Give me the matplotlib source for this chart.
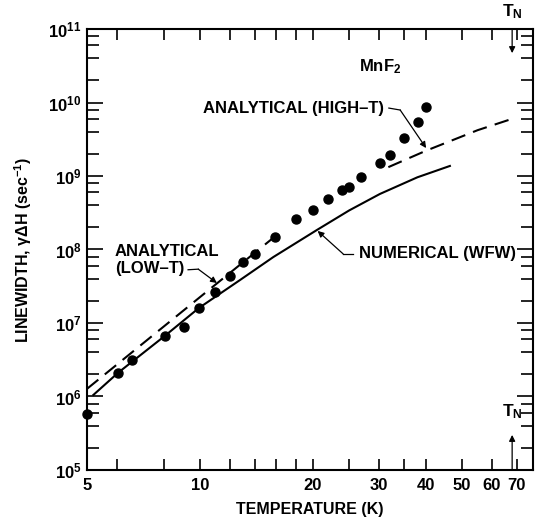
import numpy as np
import matplotlib
matplotlib.use('Agg')
import matplotlib.pyplot as plt
from matplotlib.ticker import FixedLocator, LogLocator, NullFormatter

plt.rcParams['font.family'] = ['Liberation Sans', 'DejaVu Sans']
plt.rcParams['font.weight'] = 'bold'
plt.rcParams['axes.labelweight'] = 'bold'
plt.rcParams['mathtext.fontset'] = 'custom'
plt.rcParams['mathtext.rm'] = 'Liberation Sans:bold'
plt.rcParams['mathtext.it'] = 'Liberation Sans:bold'
plt.rcParams['mathtext.bf'] = 'Liberation Sans:bold'

#==============================================================================
# data
#==============================================================================

# measured linewidth (dots)
T_data = [5.0, 6.05, 6.6, 8.07, 9.07, 9.94, 11.0, 12.0, 13.0, 14.05, 15.9, 18.0,
          20.0, 21.9, 23.9, 25.0, 26.9, 30.2, 32.2, 35.0, 38.1, 40.0]
G_data = [5.8e5, 2.1e6, 3.1e6, 6.7e6, 8.8e6, 1.6e7, 2.64e7, 4.36e7, 6.76e7, 8.7e7,
          1.48e8, 2.6e8, 3.44e8, 4.86e8, 6.46e8, 7.1e8, 9.7e8, 1.5e9, 1.93e9,
          3.3e9, 5.4e9, 8.7e9]

# numerical (WFW), solid
T_num = [5.2, 6.05, 8.07, 9.94, 12.8, 15.7, 20.5, 25.0, 30.2, 38.0, 46.4]
G_num = [1.05e6, 2.1e6, 6.7e6, 1.6e7, 3.85e7, 7.9e7, 1.84e8, 3.4e8, 5.7e8, 9.6e8, 1.37e9]

# analytical low-T, dashed
T_low = [5.0, 9.94, 16.4]
G_low = [1.27e6, 2.19e7, 1.73e8]

# analytical high-T, dashed
T_high = [31.8, 40.0, 55.0, 68.0]
G_high = [1.32e9, 2.2e9, 4.2e9, 6.0e9]

T_N = 68.0

x_ticks = [5, 6, 8, 10, 12, 14, 16, 18, 20, 25, 30, 35, 40, 50, 60, 70]
x_labels = ['5', '', '', '10', '', '', '', '', '20', '', '30', '', '40', '50', '60', '70']
y_ticks = [1e5, 1e6, 1e7, 1e8, 1e9, 1e10, 1e11]
y_labels = [r'$\mathregular{10^{%d}}$' % k for k in range(5, 12)]

#==============================================================================
# figure
#==============================================================================

fig = plt.figure(figsize=(5.37, 5.20), dpi=100)
ax = fig.add_axes([0.162, 0.0962, 0.8306, 0.848])

ax.plot(T_num, G_num, color='k', lw=1.5)
ax.plot(T_low, G_low, color='k', lw=1.5, dashes=(7, 4))
ax.plot(T_high, G_high, color='k', lw=1.5, dashes=(7, 4))
ax.plot(T_data, G_data, 'o', color='k', ms=6.5, clip_on=False)

ax.set_xscale('log')
ax.set_yscale('log')
ax.set_xlim(5, 77.3)
ax.set_ylim(1e5, 1e11)

ax.xaxis.set_major_locator(FixedLocator(x_ticks))
ax.set_xticklabels(x_labels)
ax.xaxis.set_minor_locator(FixedLocator([]))
ax.yaxis.set_major_locator(FixedLocator(y_ticks))
ax.set_yticklabels(y_labels)
ax.yaxis.set_minor_locator(LogLocator(base=10, subs=[2, 4, 6, 8]))
ax.yaxis.set_minor_formatter(NullFormatter())

ax.tick_params(which='both', direction='in', top=True, right=True, width=1.2, labelsize=12)
ax.tick_params(axis='x', which='major', length=8, pad=6)
ax.tick_params(axis='y', which='major', length=11.5, pad=4)
ax.tick_params(axis='y', which='minor', length=8.5)
for s in ax.spines.values():
    s.set_linewidth(1.5)

ax.set_xlabel('TEMPERATURE (K)', fontsize=11.5, labelpad=6)
ax.set_ylabel(r'LINEWIDTH, $\gamma\Delta$H (sec$^{-1}$)', fontsize=11.5, labelpad=10)

# annotations
ax.text(30.3, 3.04e10, r'MnF$_2$', fontsize=12, ha='center', va='center')

arr = dict(arrowstyle='-|>', color='k', lw=0.9, mutation_scale=9, shrinkA=0, shrinkB=0)

ax.text(30.9, 8.4e9, 'ANALYTICAL (HIGH\u2013T)', fontsize=12, ha='right', va='center')
ax.plot([31.9, 34.2], [8.4e9, 7.9e9], color='k', lw=0.9)
ax.annotate('', xy=(40.1, 2.4e9), xytext=(34.2, 7.9e9), arrowprops=arr)

ax.text(26.5, 8.96e7, 'NUMERICAL (WFW)', fontsize=12, ha='left', va='center')
ax.plot([25.6, 24.1], [8.7e7, 8.7e7], color='k', lw=0.9)
ax.annotate('', xy=(20.6, 1.79e8), xytext=(24.1, 8.7e7), arrowprops=arr)

ax.text(5.94, 7.2e7, 'ANALYTICAL\n(LOW\u2013T)', fontsize=12, ha='left', va='center',
        linespacing=1.2)
ax.plot([9.3, 9.9], [5.3e7, 5.4e7], color='k', lw=0.9)
ax.annotate('', xy=(11.1, 3.5e7), xytext=(9.9, 5.4e7), arrowprops=arr)

# Neel temperature markers
ax.annotate('', xy=(T_N, 4.7e10), xytext=(T_N, 1e11), arrowprops=arr, annotation_clip=False)
ax.text(T_N, 1.75e11, r'T$_\mathregular{N}$', fontsize=12.5, ha='center', va='center')
ax.annotate('', xy=(T_N, 3.0e5), xytext=(T_N, 1e5), arrowprops=arr)
ax.text(T_N, 6.2e5, r'T$_\mathregular{N}$', fontsize=12.5, ha='center', va='center')

fig.savefig('out.png', dpi=100)
